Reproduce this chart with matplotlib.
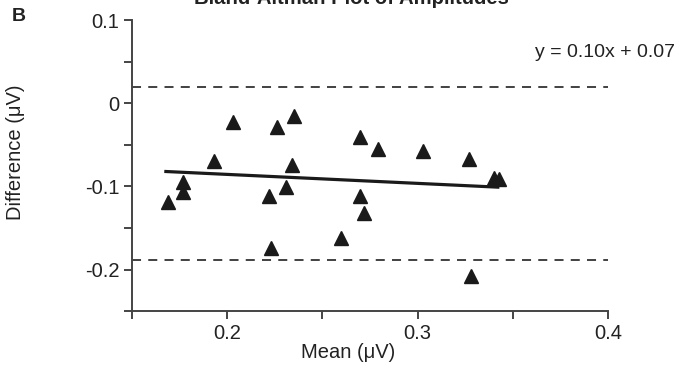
import numpy as np
import matplotlib
matplotlib.use("Agg")
import matplotlib.pyplot as plt
from matplotlib.ticker import MultipleLocator

plt.rcParams['font.family'] = ['Liberation Sans', 'DejaVu Sans']

# mean and difference of amplitudes
mean_amp = [0.169, 0.177, 0.177, 0.193, 0.203, 0.222, 0.223, 0.226, 0.231,
            0.235, 0.234, 0.260, 0.270, 0.270, 0.272, 0.279, 0.303, 0.327,
            0.328, 0.340, 0.343]
diff_amp = [-0.119, -0.095, -0.107, -0.070, -0.022, -0.112, -0.174, -0.029,
            -0.101, -0.015, -0.074, -0.162, -0.041, -0.112, -0.132, -0.055,
            -0.058, -0.067, -0.208, -0.090, -0.091]

# regression line end points and limits of agreement
fit_x = [0.167, 0.343]
fit_y = [-0.082, -0.101]
upper_loa = 0.020
lower_loa = -0.188

xtick_vals = [0.2, 0.3, 0.4]
xtick_labels = ["0.2", "0.3", "0.4"]
ytick_vals = [0.1, 0, -0.1, -0.2]
ytick_labels = ["0.1", "0", "-0.1", "-0.2"]

ink = "#222222"
axcol = "#444444"

fig = plt.figure(figsize=(6.8, 3.73), dpi=100)
ax = fig.add_axes([0.194, 0.166, 0.7, 0.78])

# limits of agreement
ax.axhline(upper_loa, color="#333333", lw=1.3, ls=(0, (5, 4)))
ax.axhline(lower_loa, color="#333333", lw=1.3, ls=(0, (5, 4)))

# regression line
ax.plot(fit_x, fit_y, color="#1a1a1a", lw=2.3, solid_capstyle="butt")

# points
ax.plot(mean_amp, diff_amp, ls="none", marker="^", ms=9.5, color="#1a1a1a",
        mec="#1a1a1a", clip_on=False)

ax.set_xlim(0.15, 0.4)
ax.set_ylim(-0.25, 0.1)

for s in ["top", "right"]:
    ax.spines[s].set_visible(False)
for s in ["left", "bottom"]:
    ax.spines[s].set_color(axcol)
    ax.spines[s].set_linewidth(1.4)

ax.set_xticks(xtick_vals)
ax.set_xticklabels(xtick_labels)
ax.set_yticks(ytick_vals)
ax.set_yticklabels(ytick_labels)
ax.xaxis.set_minor_locator(MultipleLocator(0.05))
ax.yaxis.set_minor_locator(MultipleLocator(0.05))
ax.tick_params(which="both", direction="out", color=axcol, width=1.4,
               length=6, labelsize=14.5, labelcolor=ink, pad=3)

ax.set_xlabel("Mean (\u03bcV)", fontsize=14.5, color=ink)
ax.xaxis.set_label_coords(0.454, -0.11)
ax.set_ylabel("Difference (\u03bcV)", fontsize=14.5, color=ink)
ax.yaxis.set_label_coords(-0.225, 0.546)

fig.text(0.993, 0.86, "y = 0.10x + 0.07", fontsize=14, color=ink,
         ha="right", va="center")

# title is cut off at the top edge, as in the source figure
fig.text(0.517, 0.989, "Bland-Altman Plot of Amplitudes", fontsize=14.6,
         fontweight="bold", color=ink, ha="center", va="baseline")
fig.text(0.017, 0.955, "B", fontsize=14, fontweight="bold", color=ink,
         ha="left", va="center")

fig.savefig("out.png", dpi=100)
